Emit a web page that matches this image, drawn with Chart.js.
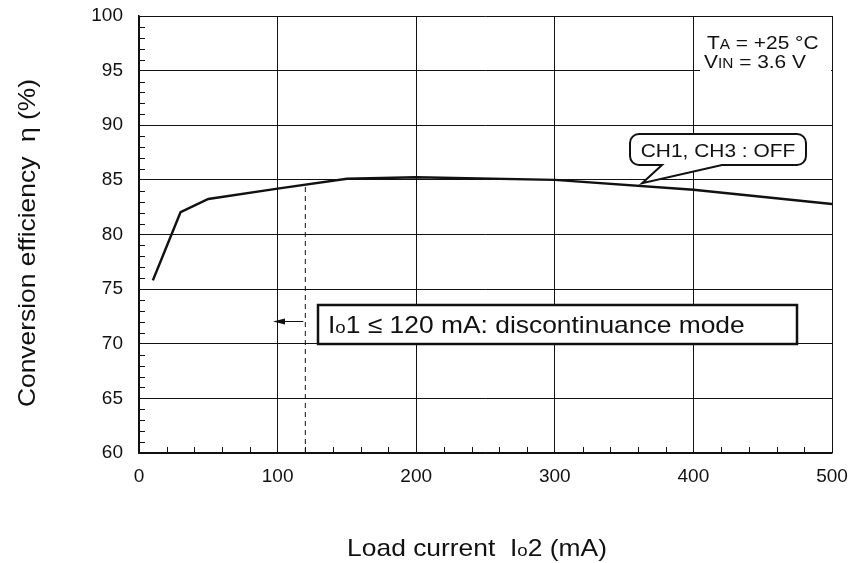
<!DOCTYPE html>
<html>
<head>
<meta charset="utf-8">
<script src="https://cdn.jsdelivr.net/npm/chart.js@4"></script>
<style>
  html, body { margin: 0; background: #fff; }
</style>
</head>
<body>
<canvas id="chart" width="852" height="563"></canvas>
<script>
// data
const loadCurrent = [10, 30, 50, 100, 150, 200, 300, 400, 500];
const efficiency = [75.8, 82.05, 83.25, 84.2, 85.1, 85.25, 85.0, 84.1, 82.8];
const modeLimit = 120;       // Io1 <= 120 mA boundary
const modeLimitEff = 84.4;   // where the dashed line meets the curve
const xRange = [0, 500];
const yRange = [60, 100];

const FONT = '"Liberation Sans", Arial, sans-serif';
const INK = '#111';
const STRETCH = 1.1;   // the reference lettering is a bit wide

// draws [text, size] pieces, stretched horizontally, left-aligned at x
function richText(c, parts, x, y) {
  c.save();
  c.translate(x, y);
  c.scale(STRETCH, 1);
  let cx = 0;
  for (const [t, size] of parts) {
    c.font = size + 'px ' + FONT;
    c.fillText(t, cx, 0);
    cx += c.measureText(t).width;
  }
  c.restore();
}
function richWidth(c, parts) {
  let w = 0;
  for (const [t, size] of parts) {
    c.font = size + 'px ' + FONT;
    w += c.measureText(t).width;
  }
  return w * STRETCH;
}

const overlay = {
  id: 'overlay',
  afterDraw(chart) {
    const c = chart.ctx;
    const xs = chart.scales.x, ys = chart.scales.y;
    const area = chart.chartArea;
    c.save();
    c.fillStyle = INK;
    c.strokeStyle = INK;
    c.textBaseline = 'alphabetic';
    c.textAlign = 'left';

    // minor ticks, inside the frame
    c.lineWidth = 1;
    c.beginPath();
    for (let v = yRange[0] + 1; v < yRange[1]; v++) {
      if (v % 5 === 0) continue;
      const py = Math.round(ys.getPixelForValue(v)) + 0.5;
      c.moveTo(area.left, py); c.lineTo(area.left + 6, py);
    }
    for (let v = xRange[0] + 20; v < xRange[1]; v += 20) {
      if (v % 100 === 0) continue;
      const px = Math.round(xs.getPixelForValue(v)) + 0.5;
      c.moveTo(px, area.bottom); c.lineTo(px, area.bottom - 6);
    }
    c.stroke();

    // conditions, top right
    c.fillStyle = '#fff';
    c.fillRect(700, 30, area.right - 701, 44);
    c.fillStyle = INK;
    richText(c, [['T', 19], ['A', 14], [' = +25 °C', 19]], 707, 49);
    richText(c, [['V', 19], ['IN', 14], [' = 3.6 V', 19]], 704, 68);

    // CH1, CH3 : OFF callout
    const tipX = xs.getPixelForValue(363), tipY = ys.getPixelForValue(84.7);
    const bx = 630, by = 134, bw = 176, bh = 31, r = 9;
    c.lineWidth = 2;
    c.beginPath();
    c.moveTo(bx + r, by);
    c.lineTo(bx + bw - r, by);
    c.arcTo(bx + bw, by, bx + bw, by + r, r);
    c.lineTo(bx + bw, by + bh - r);
    c.arcTo(bx + bw, by + bh, bx + bw - r, by + bh, r);
    c.lineTo(722, by + bh);
    c.lineTo(tipX, tipY);
    c.lineTo(662, by + bh);
    c.lineTo(bx + r, by + bh);
    c.arcTo(bx, by + bh, bx, by + bh - r, r);
    c.lineTo(bx, by + r);
    c.arcTo(bx, by, bx + r, by, r);
    c.closePath();
    c.fillStyle = '#fff';
    c.fill();
    c.stroke();
    c.fillStyle = INK;
    const chParts = [['CH1, CH3 : OFF', 19]];
    richText(c, chParts, bx + (bw - richWidth(c, chParts)) / 2, by + 23);

    // discontinuance mode box
    c.fillStyle = '#fff';
    c.fillRect(318, 305, 479, 39);
    c.lineWidth = 2.5;
    c.strokeRect(318, 305, 479, 39);
    c.fillStyle = INK;
    richText(c, [['I', 24], ['o', 17], ['1 ≤ 120 mA: discontinuance mode', 24]], 328, 333);

    // arrow pointing left from the boundary
    const ay = 321.5;
    const ax0 = xs.getPixelForValue(modeLimit) - 2;
    c.lineWidth = 1;
    c.beginPath();
    c.moveTo(ax0, ay); c.lineTo(282, ay);
    c.stroke();
    c.beginPath();
    c.moveTo(273, ay); c.lineTo(285, ay - 3); c.lineTo(285, ay + 3); c.closePath();
    c.fill();

    // axis titles
    const yParts = [['Conversion efficiency  η (%)', 24]];
    c.save();
    c.translate(35, 243);
    c.rotate(-Math.PI / 2);
    richText(c, yParts, -richWidth(c, yParts) / 2, 0);
    c.restore();

    const xParts = [['Load current  I', 24], ['o', 17], ['2 (mA)', 24]];
    richText(c, xParts, 477 - richWidth(c, xParts) / 2, 556);

    c.restore();
  }
};

new Chart(document.getElementById('chart'), {
  type: 'line',
  data: {
    datasets: [
      {
        data: loadCurrent.map((x, i) => ({ x, y: efficiency[i] })),
        borderColor: INK,
        borderWidth: 2.5,
        pointRadius: 0,
        tension: 0
      },
      {
        data: [{ x: modeLimit, y: yRange[0] }, { x: modeLimit, y: modeLimitEff }],
        borderColor: INK,
        borderWidth: 1,
        borderDash: [5, 4],
        pointRadius: 0
      }
    ]
  },
  options: {
    responsive: false,
    animation: false,
    layout: { padding: { top: 16, right: 20, left: 0, bottom: 0 } },
    plugins: {
      legend: { display: false },
      tooltip: { enabled: false }
    },
    scales: {
      x: {
        type: 'linear',
        min: xRange[0],
        max: xRange[1],
        afterFit: s => { s.height = 110; s.paddingLeft = 0; s.paddingRight = 0; },
        border: { color: INK, width: 1.5 },
        grid: { color: INK, lineWidth: 1, drawTicks: false },
        ticks: {
          stepSize: 100,
          padding: 12,
          color: INK,
          font: { family: FONT, size: 19 },
          maxRotation: 0
        }
      },
      y: {
        min: yRange[0],
        max: yRange[1],
        afterFit: s => { s.width = 139; s.paddingTop = 0; s.paddingBottom = 0; },
        border: { color: INK, width: 1.5 },
        grid: { color: INK, lineWidth: 1, drawTicks: false },
        ticks: {
          stepSize: 5,
          padding: 16,
          color: INK,
          font: { family: FONT, size: 19 }
        }
      }
    }
  },
  plugins: [overlay]
});
</script>
</body>
</html>
